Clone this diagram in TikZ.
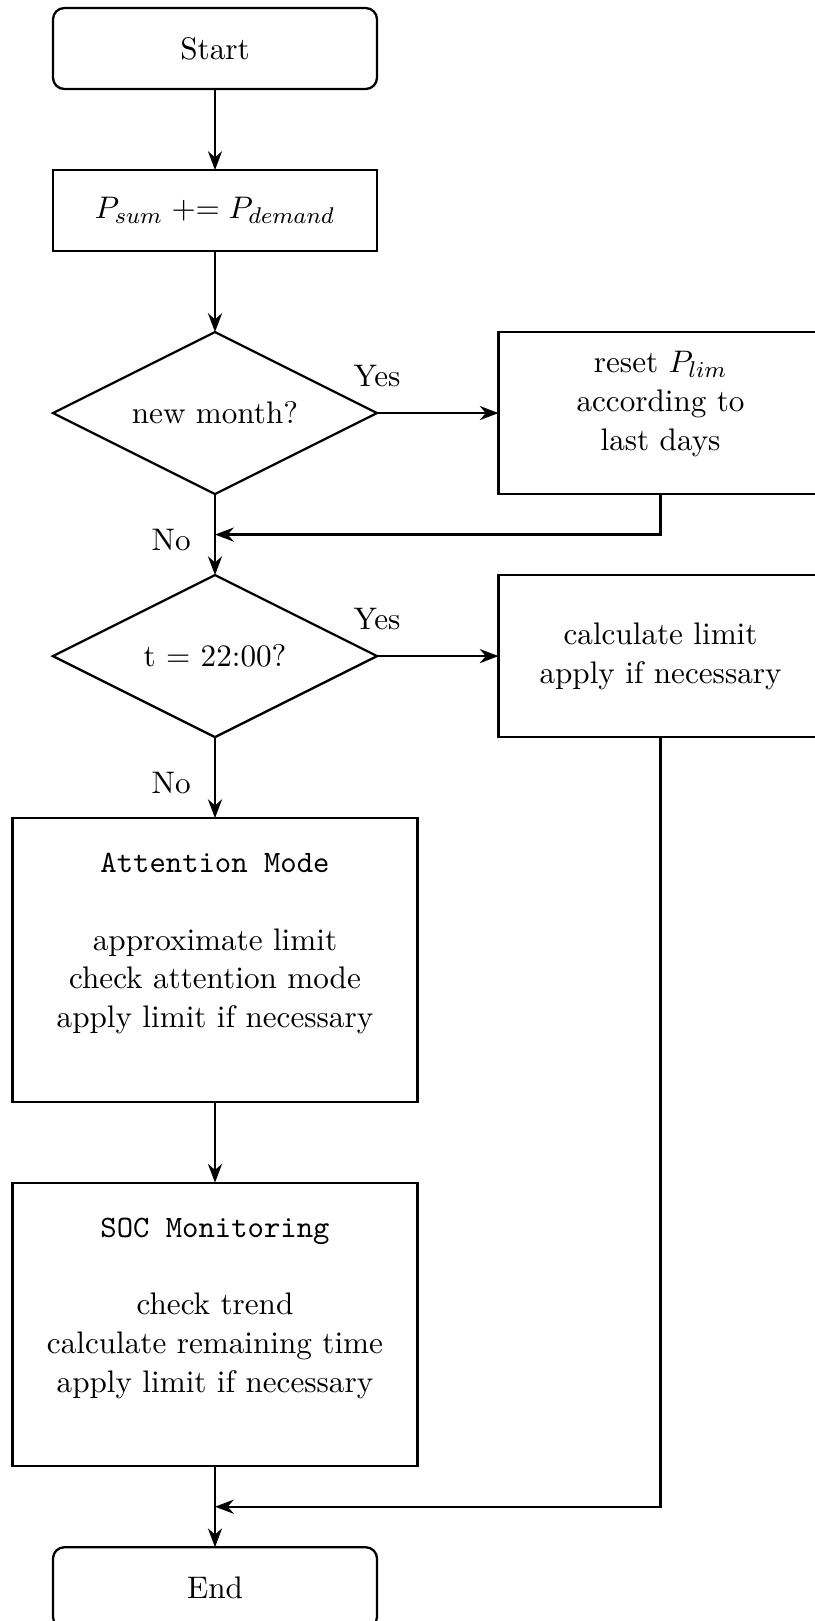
\documentclass[tikz,border=0pt,11pt]{standalone}
\usepackage{amsmath,amssymb}
\usepackage{tikz}
\usetikzlibrary{arrows.meta,shapes.geometric,positioning}

\begin{document}
\begin{tikzpicture}[>=Stealth,node distance=1cm,
  term/.style={draw,thick,rectangle,rounded corners,minimum width=4cm,minimum height=1cm,outer sep=0pt,align=center},
  box/.style={draw,thick,rectangle,minimum width=4cm,minimum height=1cm,outer sep=0pt,align=center},
  bigbox/.style={draw,thick,rectangle,minimum width=5cm,minimum height=3.5cm,outer sep=0pt,align=center},
  dec/.style={draw,thick,diamond,aspect=2,minimum width=4cm,minimum height=2cm,inner sep=0pt,outer sep=0pt,align=center},
  arrow/.style={->,thick}]
  \useasboundingbox (-2.654,0.599) rectangle (7.396,-19.411);
  \node[term] (start) at (0,0) {Start};
  \node[box,below=of start] (sum) {$P_{sum} \mathrel{+}= P_{demand}$};
  \node[dec,below=of sum] (month) {new month?};
  \node[box,right=1.5cm of month,minimum height=2cm,text depth=8.6pt] (reset) {reset $P_{lim}$\\according to\\last days};
  \node[dec,below=of month] (night) {t = 22:00?};
  \node[box,right=1.5cm of night,minimum height=2cm] (calc) {calculate limit\\apply if necessary};
  \node[bigbox,below=of night] (att) {\texttt{Attention Mode}\\ \mbox{}\\approximate limit\\check attention mode\\apply limit if necessary\\ \mbox{}};
  \node[bigbox,below=of att] (soc) {\texttt{SOC Monitoring}\\ \mbox{}\\check trend\\calculate remaining time\\apply limit if necessary\\ \mbox{}};
  \node[term,below=of soc] (end) {End};
  % merge points
  \path (month.south) -- coordinate (m1) (night.north);
  \path (soc.south) -- coordinate (m2) (end.north);
  \draw[arrow] (start) -- (sum);
  \draw[arrow] (sum) -- (month);
  \draw[arrow] (month) -- node[pos=0,above=5pt] {Yes} (reset);
  \draw[arrow] (month) -- node[left=4.5pt,yshift=-2pt] {No} (night);
  \draw[arrow] (reset) |- (m1);
  \draw[arrow] (night) -- node[pos=0,above=5pt] {Yes} (calc);
  \draw[arrow] (night) -- node[left=4.5pt,yshift=-2pt] {No} (att);
  \draw[arrow] (att) -- (soc);
  \draw[arrow] (soc) -- (end);
  \draw[arrow] (calc) |- (m2);
\end{tikzpicture}
\end{document}
